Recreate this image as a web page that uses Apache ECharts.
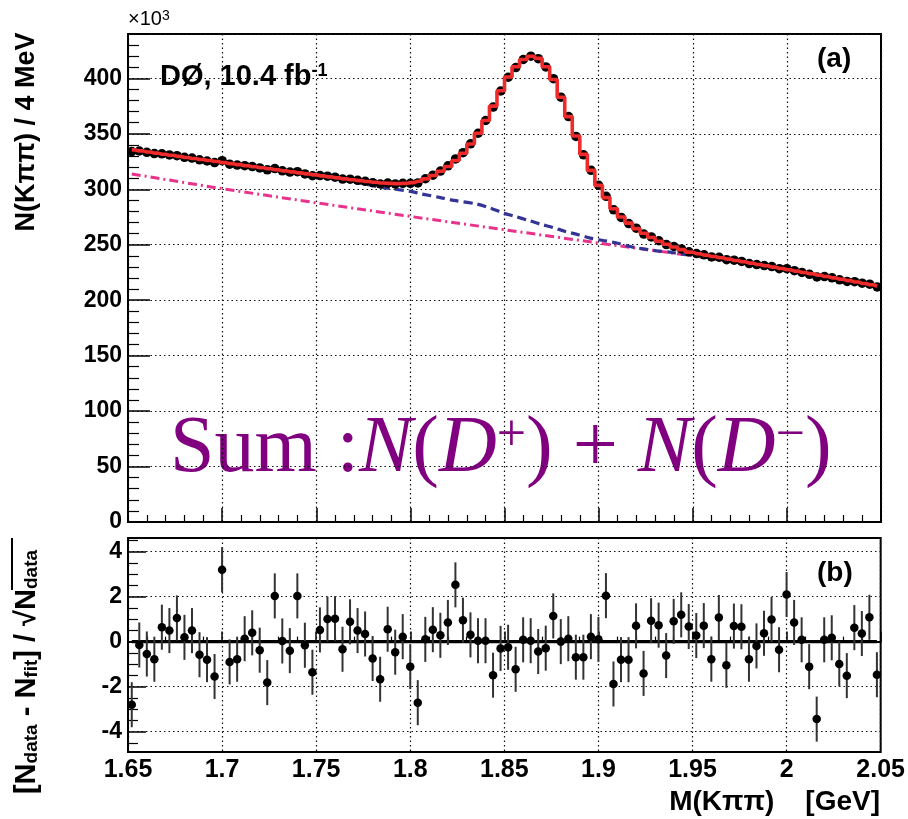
<!DOCTYPE html>
<html><head><meta charset="utf-8">
<script src="https://cdn.jsdelivr.net/npm/echarts@6/dist/echarts.min.js"></script>
<style>html,body{margin:0;padding:0;background:#fff}#c{width:908px;height:819px}</style>
</head><body><div id="c"></div>
<script>
// Histogram binning: 100 bins of 4 MeV from 1.650 to 2.050 GeV
const binLow = 1.650, binWidth = 0.004, nBins = 100;

// Data counts per bin (x10^3)
const dataCounts = [
334.0,334.5,333.3,332.2,332.0,331.0,330.3,328.8,328.1,326.6,
325.5,324.1,325.8,322.6,321.8,321.3,320.5,319.2,317.5,318.7,
316.6,315.5,315.9,313.8,312.2,312.4,311.8,310.9,309.2,309.1,
308.1,307.2,305.9,304.8,305.6,304.8,305.4,305.4,305.7,309.5,
312.7,316.4,321.1,327.4,333.0,341.0,350.5,362.0,374.1,388.6,
401.0,409.7,417.0,420.0,417.7,410.3,399.7,383.0,365.6,347.6,
331.1,317.1,303.6,293.6,281.5,274.6,269.1,264.9,259.6,257.0,
253.6,250.1,248.4,246.2,243.6,242.0,240.9,239.0,238.7,236.5,
236.1,234.9,233.0,232.1,231.2,230.3,228.4,228.4,226.6,225.0,
223.3,221.0,221.3,220.2,218.4,216.9,216.7,215.3,214.4,211.9];

// Fit (total) per bin (x10^3)
const fitCounts = [
335.5,334.6,333.6,332.6,331.6,330.7,329.7,328.7,327.8,326.9,
325.9,325.0,324.0,323.1,322.2,321.2,320.3,319.4,318.5,317.6,
316.6,315.7,314.8,313.9,313.0,312.1,311.2,310.3,309.4,308.6,
307.8,307.0,306.3,305.7,305.3,305.1,305.3,306.0,307.2,309.4,
312.4,316.2,320.6,326.0,332.5,340.8,350.5,362.0,375.0,388.8,
401.2,410.5,417.0,420.0,418.0,410.5,399.0,383.0,365.5,348.0,
331.5,317.0,303.5,292.5,282.5,275.0,269.5,264.5,260.3,256.5,
253.2,250.4,248.0,245.6,243.3,241.9,240.6,239.4,238.2,237.0,
235.8,234.6,233.4,232.2,231.0,229.8,228.6,227.4,226.2,225.0,
223.8,222.6,221.3,220.1,218.9,217.6,216.4,215.1,213.9,212.6];

// Blue dashed background component (x in GeV, y x10^3)
const blueX = [1.652,1.70,1.75,1.77,1.784,1.80,1.806,1.816,1.823,1.835,1.8425,1.8494,1.8557,1.8626,1.869,1.8757,1.8823,1.8892,1.8956,1.9026,1.9097,1.9168,1.9237,1.9309,1.9389,1.9469,1.956,2.00,2.048];
const blueY = [335.5,324.0,312.3,306.8,302.0,298.1,295.8,292.5,290.0,286.8,283.0,278.6,275.5,272.0,268.6,265.6,262.0,259.0,256.0,253.8,251.5,248.4,246.3,244.5,243.0,241.0,239.8,227.4,212.6];

// Magenta dash-dot combinatorial background (x in GeV, y x10^3)
const magX = [1.652,1.70,1.75,1.80,1.85,1.90,1.95,2.00,2.048];
const magY = [313.8,300.5,287.8,275.5,263.5,251.5,240.0,227.4,212.6];

// Residuals (N_data - N_fit)/sqrt(N_data)
const residuals = [
-2.80,-0.15,-0.55,-0.78,0.64,0.49,1.05,0.19,0.49,-0.58,
-0.80,-1.55,3.19,-0.90,-0.78,0.13,0.39,-0.38,-1.82,2.03,
0.03,-0.40,2.03,-0.16,-1.36,0.52,1.00,1.02,-0.34,0.88,
0.49,0.34,-0.75,-1.67,0.55,-0.47,0.22,-1.11,-2.71,0.10,
0.53,0.28,0.85,2.52,0.95,0.30,0.04,0.04,-1.49,-0.30,
-0.25,-1.23,0.08,0.04,-0.44,-0.29,1.14,0.00,0.13,-0.69,
-0.69,0.22,0.10,2.04,-1.88,-0.80,-0.80,0.70,-1.41,0.93,
0.73,-0.62,0.90,1.19,0.67,0.27,0.71,-0.78,1.07,-1.05,
0.69,0.66,-0.78,-0.19,0.37,0.98,-0.36,2.09,0.85,0.08,
-1.11,-3.44,0.08,0.17,-0.99,-1.51,0.62,0.36,1.08,-1.47];
const residErr = 1.0;

// Tick labels
const residMajorTicks = [-4,-2,0,2,4];
const residMinorTicks = [-4.5,-3.5,-3,-2.5,-1.5,-1,-0.5,0.5,1,1.5,2.5,3,3.5,4.5];

const centers = Array.from({length:nBins},(_,k)=> +(binLow + binWidth*(k+0.5)).toFixed(4));
const pairs = (xs, ys) => xs.map((x,i)=>[x, ys[i]]);

const FONT = 'Liberation Sans, Arial, Helvetica, sans-serif';
const SERIF = 'Liberation Serif, serif';
const dotted = {show:true, lineStyle:{color:'#111', width:1.2, type:[1.5,3]}};

const chart = echarts.init(document.getElementById('c'), null, {renderer:'canvas'});
chart.setOption({
  backgroundColor:'#fff',
  animation:false,
  grid:[
    {left:128, right:27, top:34, height:488, show:true, borderColor:'#000', borderWidth:2},
    {left:128, right:27, top:538, height:214, show:true, borderColor:'#000', borderWidth:2}
  ],
  xAxis:[
    {gridIndex:0, type:'value', min:1.65, max:2.05, interval:0.05,
     axisLine:{lineStyle:{color:'#000', width:2}},
     axisTick:{inside:true, length:14, lineStyle:{color:'#000', width:1.5}},
     minorTick:{show:true, splitNumber:5, length:7, lineStyle:{color:'#000', width:1.2}},
     axisLabel:{show:false}, splitLine:dotted},
    {gridIndex:1, type:'value', min:1.65, max:2.05, interval:0.05,
     axisLine:{lineStyle:{color:'#000', width:2}},
     axisTick:{inside:true, length:10, lineStyle:{color:'#000', width:1.5}},
     minorTick:{show:true, splitNumber:5, length:5, lineStyle:{color:'#000', width:1.2}},
     axisLabel:{show:true, margin:6, color:'#000', fontFamily:FONT, fontWeight:'bold', fontSize:25},
     splitLine:dotted}
  ],
  yAxis:[
    {gridIndex:0, type:'value', min:0, max:440, interval:50,
     axisLine:{lineStyle:{color:'#000', width:2}},
     axisTick:{inside:true, length:22, lineStyle:{color:'#000', width:1.5}},
     minorTick:{show:true, splitNumber:5, length:11, lineStyle:{color:'#000', width:1.2}},
     axisLabel:{margin:6, color:'#000', fontFamily:FONT, fontWeight:'bold', fontSize:23, showMaxLabel:false},
     splitLine:dotted},
    {gridIndex:1, type:'value', min:-4.9, max:4.6,
     axisLine:{lineStyle:{color:'#000', width:2}},
     axisTick:{inside:true, length:18, customValues:residMajorTicks, lineStyle:{color:'#000', width:1.5}},
     axisLabel:{margin:6, color:'#000', fontFamily:FONT, fontWeight:'bold', fontSize:23, customValues:residMajorTicks},
     splitLine:dotted},
    {gridIndex:1, type:'value', min:-4.9, max:4.6, position:'left',
     axisLine:{show:false},
     axisTick:{inside:true, length:10, customValues:residMinorTicks, lineStyle:{color:'#000', width:1.2}},
     axisLabel:{show:false}, splitLine:{show:false}}
  ],
  series:[
    {type:'line', xAxisIndex:0, yAxisIndex:0, data:pairs(magX, magY), showSymbol:false, symbol:'none',
     lineStyle:{color:'#e8338c', width:3, type:[9,4,2,4]}, z:2},
    {type:'line', xAxisIndex:0, yAxisIndex:0, data:pairs(blueX, blueY), showSymbol:false, symbol:'none', smooth:0.3,
     lineStyle:{color:'#343497', width:3.2, type:[9,5]}, z:3},
    {type:'scatter', xAxisIndex:0, yAxisIndex:0, data:pairs(centers, dataCounts), symbol:'circle', symbolSize:9.5,
     itemStyle:{color:'#000', opacity:1}, z:4},
    {type:'line', xAxisIndex:0, yAxisIndex:0, data:pairs(centers, fitCounts), step:'middle', showSymbol:false, symbol:'none',
     lineStyle:{color:'#ee2a2a', width:3.6}, z:5},
    {type:'line', xAxisIndex:1, yAxisIndex:1, data:[[centers[0],0],[centers[nBins-1],0]], showSymbol:false, symbol:'none',
     lineStyle:{color:'#000', width:3.2}, z:3},
    {type:'custom', xAxisIndex:1, yAxisIndex:1, data:pairs(centers, residuals), z:4,
     renderItem:(params, api)=>{
       const x = api.value(0), y = api.value(1);
       const p1 = api.coord([x, y - residErr]), p2 = api.coord([x, y + residErr]);
       return {type:'line', shape:{x1:p1[0], y1:p1[1], x2:p2[0], y2:p2[1]}, style:{stroke:'#333', lineWidth:2}};
     }},
    {type:'scatter', xAxisIndex:1, yAxisIndex:1, data:pairs(centers, residuals), symbol:'circle', symbolSize:8.5,
     itemStyle:{color:'#000', opacity:1}, z:5}
  ],
  graphic:[
    {type:'text', x:128, y:9, style:{text:'{a|×10}{s|3}', fill:'#000',
      rich:{a:{fontFamily:FONT, fontSize:20, fill:'#000'}, s:{fontFamily:FONT, fontSize:14, verticalAlign:'top', fill:'#000'}}}},
    {type:'text', x:160, y:62, style:{text:'{a|DØ, 10.4 fb}{s|-1}', fill:'#000',
      rich:{a:{fontFamily:FONT, fontSize:29, fontWeight:'bold', fill:'#000'}, s:{fontFamily:FONT, fontSize:18, fontWeight:'bold', verticalAlign:'top', fill:'#000'}}}},
    {type:'text', x:817, y:45, style:{text:'(a)', fontFamily:FONT, fontSize:28, fontWeight:'bold', fill:'#000'}},
    {type:'text', x:817, y:559, style:{text:'(b)', fontFamily:FONT, fontSize:28, fontWeight:'bold', fill:'#000'}},
    {type:'text', x:170, y:410, style:{text:'{u|Sum :}{i|N}{u|(}{i|D}{s|+}{u|) + }{i|N}{u|(}{i|D}{s|−}{u|)}', fill:'#800080',
      rich:{u:{fontFamily:SERIF, fontSize:80, fill:'#800080'},
            i:{fontFamily:SERIF, fontStyle:'italic', fontSize:80, fill:'#800080'},
            s:{fontFamily:SERIF, fontSize:52, verticalAlign:'top', fill:'#800080'}}}},
    {type:'text', x:27, y:132, rotation:Math.PI/2, style:{text:'N(Kππ) / 4 MeV', fontFamily:FONT, fontSize:27, fontWeight:'bold', fill:'#000', align:'center', verticalAlign:'middle'}},
    {type:'text', x:27, y:672, rotation:Math.PI/2, style:{text:'{b|[N}{s|data}{b| - N}{s|fit}{b|] / √N}{s|data}', fill:'#000', align:'center', verticalAlign:'middle',
      rich:{b:{fontFamily:FONT, fontSize:29, fontWeight:'bold', fill:'#000'}, s:{fontFamily:FONT, fontSize:19, fontWeight:'bold', verticalAlign:'bottom', fill:'#000'}}}},
    {type:'line', shape:{x1:12, y1:538, x2:12, y2:590}, style:{stroke:'#000', lineWidth:2}},
    {type:'text', x:880, y:802, style:{text:'M(Kππ)    [GeV]', fontFamily:FONT, fontSize:28, fontWeight:'bold', fill:'#000', align:'right', verticalAlign:'middle'}}
  ]
});
</script></body></html>
